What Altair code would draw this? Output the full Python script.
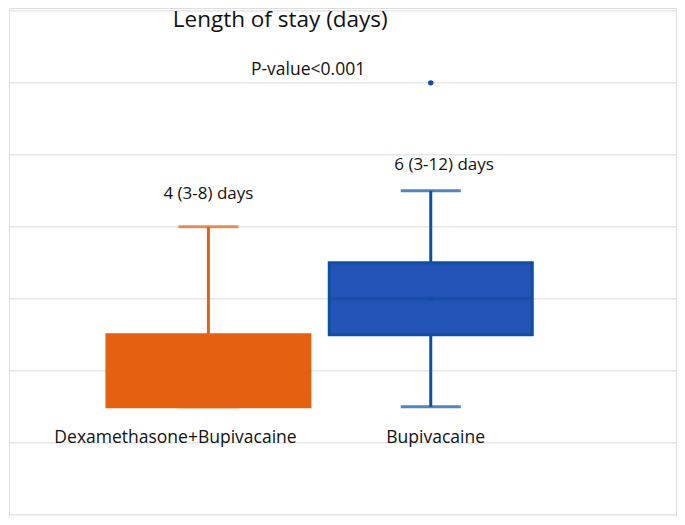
import altair as alt
import pandas as pd

groups = ["Dexamethasone+Bupivacaine", "Bupivacaine"]
group_pos = [1, 2]
whisker_low = [3, 3]
q1 = [3, 5]
median = [4, 6]
q3 = [5, 7]
whisker_high = [8, 9]
means = [4, 6]
fill_colors = ["#e46112", "#2453b8"]
line_colors = ["#e46112", "#0d4fa0"]

outlier_group = [2]
outlier_values = [12]

summary_labels = ["4 (3-8) days", "6 (3-12) days"]
summary_x = [1.0, 2.06]
summary_y = [8.92, 9.72]

cat_label_x = [0.852, 2.022]
cat_label_y = [2.14, 2.14]

title_text = ["Length of stay (days)"]
title_x = [1.323]
title_y = [13.74]
pval_text = ["P-value<0.001"]
pval_x = [1.448]
pval_y = [12.36]

grid_values = [0, 2, 4, 6, 8, 10, 12, 14]

df = pd.DataFrame({
    "group": groups, "pos": group_pos, "lo": whisker_low, "q1": q1,
    "med": median, "q3": q3, "hi": whisker_high, "mean": means,
    "fill": fill_colors, "line": line_colors,
    "lab": summary_labels, "lx": summary_x, "ly": summary_y,
    "cx": cat_label_x, "cy": cat_label_y,
})
out = pd.DataFrame({"pos": outlier_group, "v": outlier_values})
ann = pd.DataFrame({
    "t": title_text + pval_text, "x": title_x + pval_x, "y": title_y + pval_y,
    "s": [22.5, 17.5],
})
grid = pd.DataFrame({"g": grid_values})

xs = alt.Scale(domain=[0.1031, 3.103], nice=False, zero=False, padding=0)
ys = alt.Scale(domain=[-0.06, 14.08], nice=False, zero=False, padding=0)
X = lambda f: alt.X(f, type="quantitative", scale=xs, axis=None)
Y = lambda f: alt.Y(f, type="quantitative", scale=ys, axis=None)

base = alt.Chart(df)

gridlines = alt.Chart(grid).mark_rule(color="#d9d9d9", strokeWidth=1).encode(y=Y("g"))

whisk_low = base.mark_rule(strokeWidth=3).encode(
    x=X("pos"), y=Y("lo"), y2="q1", color=alt.Color("line:N", scale=None))
whisk_high = base.mark_rule(strokeWidth=3).encode(
    x=X("pos"), y=Y("q3"), y2="hi", color=alt.Color("line:N", scale=None))
cap_hi = base.mark_tick(orient="horizontal", size=60, thickness=3).encode(
    x=X("pos"), y=Y("hi"), color=alt.Color("line:N", scale=None))
cap_lo = base.mark_tick(orient="horizontal", size=60, thickness=3).encode(
    x=X("pos"), y=Y("lo"), color=alt.Color("line:N", scale=None))
box = base.mark_bar(size=203, strokeWidth=3).encode(
    x=X("pos"), y=Y("q1"), y2="q3",
    fill=alt.Fill("fill:N", scale=None), stroke=alt.Stroke("line:N", scale=None))
med = base.mark_tick(orient="horizontal", size=203, thickness=3).encode(
    x=X("pos"), y=Y("med"), color=alt.Color("line:N", scale=None))
mean_mark = base.transform_filter("datum.pos == 2").mark_point(
    shape="cross", size=30, filled=True, color="#0d4fa0", angle=45).encode(
    x=X("pos"), y=Y("mean"))
outl = alt.Chart(out).mark_circle(size=30, color="#0d4fa0", opacity=1).encode(
    x=X("pos"), y=Y("v"))
sumtext = base.mark_text(fontSize=17, font="Open Sans", color="#111111").encode(
    x=X("lx"), y=Y("ly"), text="lab:N")
cattext = base.mark_text(fontSize=17.5, font="Open Sans", color="#111111").encode(
    x=X("cx"), y=Y("cy"), text="group:N")
anntext = alt.Chart(ann).mark_text(font="Open Sans", color="#111111").encode(
    x=X("x"), y=Y("y"), text="t:N", size=alt.Size("s:Q", scale=None))

chart = alt.layer(
    gridlines, whisk_low, whisk_high, cap_hi, cap_lo, box, med, mean_mark, outl,
    sumtext, cattext, anntext
).properties(
    width=669, height=509, padding=0,
    autosize=alt.AutoSizeParams(type="fit", contains="padding"),
).configure_view(strokeWidth=0, stroke="transparent").configure(background="white")

chart.save("out.html", embed_options={"renderer": "svg", "actions": False})
